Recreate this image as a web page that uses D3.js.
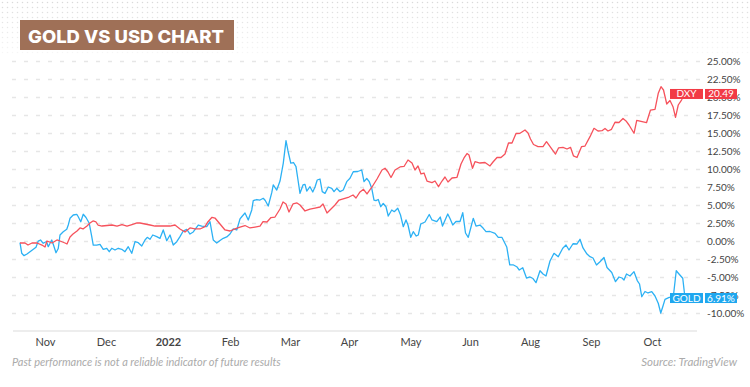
<!DOCTYPE html>
<html>
<head>
<meta charset="utf-8">
<script src="https://cdn.jsdelivr.net/npm/d3@7"></script>
<style>
  html, body { margin: 0; padding: 0; background: #fff; }
  svg { display: block; font-family: Lato, "Open Sans", sans-serif; }
</style>
</head>
<body>
<svg id="chart" width="750" height="387"></svg>
<script>
// Gold vs US dollar index, % change since the start (TradingView compare chart)
// x is a trading-day index, y is % change

const title = 'GOLD VS USD CHART';

const tickDays   = [10, 34.4, 59.2, 84, 108, 131.6, 156.2, 180, 204, 228.4, 252.8];
const tickLabels = ['Nov', 'Dec', '2022', 'Feb', 'Mar', 'Apr', 'May', 'Jun', 'Aug', 'Sep', 'Oct'];
const yTicks     = [-10, -7.5, -5, -2.5, 0, 2.5, 5, 7.5, 10, 12.5, 15, 17.5, 20, 22.5, 25];

const dxyDays = [0, 2, 3.2, 4.8, 6.8, 8.8, 10, 10.8, 12.8, 14.8, 16, 18, 18.8, 20, 21.2, 22.8, 24, 25.2, 26.8, 28,
  29.2, 30.4, 31.2, 32.8, 34.8, 36.8, 38.8, 40.8, 42.8, 44.8, 46.8, 48, 50, 52, 54, 56, 58, 60, 62, 64,
  66, 68, 70, 72, 74, 75.2, 76.8, 78, 80, 82, 84, 86, 88, 90, 92, 94, 96, 97.2, 98.8, 100.4,
  102, 104, 105.2, 106.4, 107.6, 109.2, 110.8, 112, 114, 116, 118, 120, 121.2, 122.8, 124.4, 126, 127.6, 129.6, 131.6, 133.2,
  134.4, 136, 137.4, 138.8, 140.8, 142.8, 144.8, 146, 147.2, 148.4, 150, 152, 153.6, 155.2, 156.8, 158, 159.2, 160.4, 161.6, 162.8,
  164.8, 166, 167.4, 168.8, 170, 171.2, 172.8, 174.8, 176.4, 177.6, 178.8, 179.6, 181, 182, 184, 186, 188, 189.2, 190.8, 192.4,
  194, 195.4, 196.8, 198.4, 200, 202, 203.2, 204.2, 205.4, 207.2, 209.2, 210.6, 212.4, 214.2, 215.4, 217.2, 218.8, 220.2, 221.4, 222.8,
  224.6, 226, 228, 229.6, 231.2, 232.8, 234, 235.2, 236.6, 238, 239.6, 241.2, 242.4, 243.6, 245.6, 246.7, 248.4, 250.6, 252.2, 254,
  255.3, 256.4, 257.4, 258.7, 260, 261.2, 262.2, 263.3, 264.6, 266];
const dxyPct = [-0.21, -0.21, -0.49, -0.21, -0.21, -0.49, -0.76, 0.07, -0.21, 0.21, 0.07, -0.21, -0.35, 0.63, 1.04, 1.46, 1.88, 1.74, 2.15, 2.57,
  2.85, 2.71, 2.29, 2.15, 2.22, 2.29, 2.15, 2.36, 2.15, 2.36, 2.57, 2.57, 2.43, 2.29, 2.15, 2.15, 2.15, 2.15, 2.29, 1.74,
  1.32, 1.88, 1.74, 1.74, 2.06, 2.75, 3.36, 3.26, 2.43, 1.60, 1.46, 1.74, 2.01, 2.22, 1.88, 2.01, 2.15, 2.75, 2.71, 3.33,
  3.40, 4.51, 5.49, 5.21, 4.10, 5.21, 5.35, 5.07, 4.24, 4.51, 4.65, 4.79, 5.21, 3.96, 4.51, 5.07, 5.76, 5.97, 6.18, 6.46,
  6.04, 6.88, 7.25, 6.60, 7.57, 8.68, 9.93, 10.17, 9.65, 8.89, 9.93, 10.35, 10.42, 11.32, 10.90, 9.93, 10.49, 9.38, 9.51, 8.40,
  8.17, 8.40, 7.61, 8.40, 8.96, 8.26, 8.82, 8.92, 10.76, 11.60, 12.22, 12.01, 10.17, 11.08, 10.90, 10.97, 10.49, 11.04, 11.67, 11.67,
  12.15, 13.68, 13.68, 15.00, 15.03, 15.49, 15.07, 14.24, 13.47, 13.19, 13.17, 13.86, 12.99, 12.15, 12.99, 13.08, 12.85, 13.08, 11.88, 11.67,
  13.17, 13.26, 14.56, 15.72, 15.35, 15.39, 15.69, 15.35, 15.58, 16.56, 16.53, 17.08, 16.74, 16.18, 15.03, 16.81, 16.67, 16.50, 18.26, 18.36,
  20.58, 21.50, 21.04, 19.10, 19.58, 18.72, 17.25, 18.96, 19.65, 20.49];

const goldDays = [0, 0.7, 1.6, 2.8, 4, 5.2, 6.4, 7.3, 8.2, 9.3, 10.6, 11.3, 12.7, 13.4, 14.4, 15.3, 16, 17.3, 18.7, 19.3,
  20, 21.3, 22.7, 23.3, 24.3, 25.3, 26.4, 27.7, 28.7, 29.3, 30.7, 32, 33.3, 34.7, 35.7, 36.7, 38, 39.3, 40.7, 42,
  43.3, 44.7, 46, 47.3, 48.7, 50, 50.9, 52, 53.1, 54.7, 56, 57.3, 58.7, 60, 61.3, 62.7, 64, 65.3, 66.7, 68,
  69.3, 71.3, 72.7, 74.7, 76, 76.7, 77.3, 78.7, 80, 81.3, 82.7, 84, 85.3, 86.7, 88, 88.7, 90, 91.3, 92.7, 93.3,
  94.7, 96, 97.3, 98.1, 99.3, 100.7, 101.3, 102.7, 104, 105.3, 106.4, 107.2, 108.3, 109.4, 110.4, 111.2, 112, 113.2, 114, 114.7,
  116, 117.1, 118, 118.9, 120, 120.9, 122, 123.3, 124.7, 125.6, 126.7, 128, 129.3, 130.7, 132, 133.3, 135.1, 136.7, 137.6, 138.7,
  139.7, 140.7, 141.6, 142.4, 143.3, 144.3, 145.3, 146.4, 147.3, 148.7, 149.7, 151.1, 152.2, 153.3, 154.4, 155.2, 156.3, 157.3, 158.5, 159.3,
  160.3, 162, 163.7, 164.8, 166.7, 168.1, 169, 171.1, 172, 173.1, 174.4, 176, 177.1, 178.2, 179.3, 180.4, 181.3, 182.4, 184, 185.3,
  186.4, 188, 190, 191.3, 192.8, 194.7, 195.9, 197.4, 198.7, 199.7, 201.1, 202.6, 204, 205.2, 206.4, 208, 209.2, 210.4, 212, 213.6,
  215.3, 217.1, 218.4, 219.6, 221.2, 222.8, 224, 225.2, 226.8, 228, 229.2, 230.6, 232, 233.6, 234.8, 236.7, 238.2, 239.6, 240.8, 241.6,
  242.6, 244, 245.6, 246.9, 247.8, 248.7, 250, 251.2, 252.7, 254, 255.3, 256.3, 257.2, 258, 259.7, 261.3, 262.5, 263.6, 265.1, 266];
const goldPct = [-0.17, -1.64, -1.97, -1.74, -1.42, -1.11, -0.81, 0.07, 0.21, -0.25, 0, -0.72, 0.21, -0.49, -1.56, -0.97, 0.90, 1.36, 1.69, 2.29,
  3.22, 3.68, 3.78, 3.44, 2.75, 3.78, 3.33, 2.53, 0.67, -0.49, -0.49, -0.39, -1.08, -0.94, -1.42, -0.94, -1.18, -0.94, -1.08, -1.42,
  -0.72, -1.64, -0.03, -0.17, -0.63, 0.21, 0.58, 0.31, 0.90, 0.67, 0.44, 1.60, 0.11, 0.90, -0.49, -0.03, 0.67, 1.46, 1.69, 1.04,
  1.32, 2.29, 2.15, 2.06, 2.75, 1.36, 0.21, -0.21, 0.14, 0.44, 0.63, 1.04, 1.74, 1.60, 3.13, 3.44, 3.96, 2.99, 4.38, 5.67,
  5.83, 5.76, 6.00, 5.69, 4.93, 6.78, 7.85, 7.15, 8.40, 10.86, 14.00, 12.57, 10.90, 10.97, 10.39, 8.54, 6.69, 7.85, 7.94, 7.01,
  7.61, 6.88, 7.57, 8.54, 8.68, 6.92, 6.69, 7.57, 7.39, 6.92, 7.39, 6.92, 7.15, 8.31, 8.78, 9.69, 9.72, 9.93, 8.31, 8.75,
  8.31, 7.39, 5.76, 5.67, 5.83, 4.83, 5.28, 4.83, 3.54, 4.38, 4.14, 4.61, 3.68, 2.06, 2.99, 2.29, 0.58, 1.36, 0.76, 0.90,
  2.43, 2.71, 3.75, 2.99, 2.75, 3.40, 2.15, 3.82, 3.19, 2.29, 2.78, 2.78, 4.00, 1.18, 0.58, 2.01, 3.22, 2.15, 2.29, 1.83,
  1.36, 1.39, 1.14, 0.58, 0.56, -0.76, -3.26, -3.26, -3.50, -3.96, -3.64, -5.07, -4.93, -5.14, -5.72, -4.06, -4.51, -4.79, -2.71, -1.64,
  -2.11, -0.94, -0.49, -1.18, -0.31, -0.35, 0.31, -0.90, -1.74, -2.11, -2.29, -3.26, -2.81, -2.22, -3.61, -4.31, -5.58, -4.93, -5.07, -5.35,
  -4.51, -4.79, -4.19, -5.42, -5.90, -7.67, -6.94, -7.15, -6.97, -7.57, -8.58, -9.93, -8.96, -8.03, -7.75, -7.75, -4.06, -4.51, -5.11, -7.85];

const seriesNames  = ['GOLD', 'DXY'];
const seriesLabels = ['6.91%', '20.49'];

const svg = d3.select('#chart');
const W = 750;

// dotted texture behind the title
const defs = svg.append('defs');
defs.append('pattern')
    .attr('id', 'dots').attr('width', 5).attr('height', 5)
    .attr('patternUnits', 'userSpaceOnUse')
  .append('circle')
    .attr('cx', 2.5).attr('cy', 2.5).attr('r', 0.75).attr('fill', '#d9d9d9');
const fade = defs.append('linearGradient').attr('id', 'fade').attr('x1', 0).attr('x2', 0).attr('y1', 0).attr('y2', 1);
fade.append('stop').attr('offset', '0%').attr('stop-color', '#fff').attr('stop-opacity', 1);
fade.append('stop').attr('offset', '100%').attr('stop-color', '#fff').attr('stop-opacity', 0.2);
defs.append('mask').attr('id', 'fadeMask')
  .append('rect').attr('width', W).attr('height', 56).attr('fill', 'url(#fade)');
svg.append('rect')
    .attr('width', W).attr('height', 56)
    .attr('fill', 'url(#dots)')
    .attr('mask', 'url(#fadeMask)');

// title badge
svg.append('rect')
    .attr('x', 20).attr('y', 20).attr('width', 214).attr('height', 30)
    .attr('fill', '#9f7057');
svg.append('text')
    .attr('x', 28).attr('y', 42.5)
    .attr('textLength', 196).attr('lengthAdjust', 'spacingAndGlyphs')
    .attr('fill', '#fff')
    .style('font-family', 'Inter, Lato, sans-serif')
    .style('font-weight', 800).style('font-size', '18px')
    .text(title);

// scales
const x = d3.scaleLinear().domain([0, 266]).range([20, 685]);
const y = d3.scaleLinear().domain([-10, 25]).range([313.5, 61.5]);
const gridLeft = 12, gridRight = 700, axisY = 331;

// dashed gridlines
svg.append('g').selectAll('line').data(yTicks).join('line')
    .attr('x1', gridLeft).attr('x2', gridRight)
    .attr('y1', d => y(d)).attr('y2', d => y(d))
    .attr('stroke', '#e6e6e6').attr('stroke-width', 1.5)
    .attr('stroke-dasharray', '4,8');

// right axis labels
const yAxis = svg.append('g')
    .attr('transform', `translate(703,0)`)
    .call(d3.axisRight(y).tickValues(yTicks).tickSize(0).tickPadding(4)
        .tickFormat(d => d.toFixed(2) + '%'));
yAxis.select('.domain').remove();
yAxis.selectAll('text')
    .attr('fill', '#444').style('font-size', '10px')
    .style('font-family', 'Lato, sans-serif');

// bottom axis
svg.append('line')
    .attr('x1', gridLeft + 1).attr('x2', 697)
    .attr('y1', axisY).attr('y2', axisY)
    .attr('stroke', '#ededed').attr('stroke-width', 2);
const xAxis = svg.append('g')
    .attr('transform', `translate(0,${axisY})`)
    .call(d3.axisBottom(x).tickValues(tickDays).tickSize(0).tickPadding(7)
        .tickFormat((d, i) => tickLabels[i]));
xAxis.select('.domain').remove();
xAxis.selectAll('text')
    .attr('fill', '#444').style('font-size', '11px')
    .style('font-family', 'Lato, sans-serif')
    .style('font-weight', (d, i) => tickLabels[i] === '2022' ? 700 : 400);

// lines
const series = [
    { name: seriesNames[0], days: goldDays, pct: goldPct, line: '#2cb1f4', box: '#1ea7ef', label: seriesLabels[0] },
    { name: seriesNames[1], days: dxyDays, pct: dxyPct, line: '#f6525c', box: '#f23a45', label: seriesLabels[1] }
];
const lineGen = d3.line().x(d => x(d[0])).y(d => y(d[1]));

svg.append('g').selectAll('path').data(series).join('path')
    .attr('d', s => lineGen(d3.zip(s.days, s.pct)))
    .attr('fill', 'none')
    .attr('stroke', s => s.line)
    .attr('stroke-width', 1.3)
    .attr('stroke-linejoin', 'round');

// end-of-line tags (they sit over the axis labels, as in TradingView)
const tags = svg.append('g').selectAll('g').data(series).join('g')
    .attr('transform', s => `translate(0,${y(s.pct[s.pct.length - 1])})`);
tags.append('rect')
    .attr('x', 670).attr('y', -5).attr('width', 33).attr('height', 10)
    .attr('fill', s => s.box);
tags.append('rect')
    .attr('x', 705).attr('y', -5).attr('width', 32).attr('height', 10)
    .attr('fill', s => s.box);
tags.append('text')
    .attr('x', 686.5).attr('y', 3.5).attr('text-anchor', 'middle')
    .attr('fill', '#fff').style('font-size', '10px')
    .text(s => s.name);
tags.append('text')
    .attr('x', 721).attr('y', 3.5).attr('text-anchor', 'middle')
    .attr('fill', '#fff').style('font-size', '10px')
    .text(s => s.label);

// footer
svg.append('text')
    .attr('x', 12).attr('y', 366)
    .attr('fill', '#ababab').style('font-size', '11px').style('font-style', 'italic')
    .text('Past performance is not a reliable indicator of future results');
svg.append('text')
    .attr('x', 737).attr('y', 366).attr('text-anchor', 'end')
    .attr('fill', '#ababab').style('font-size', '11.5px').style('font-style', 'italic')
    .text('Source: TradingView');
</script>
</body>
</html>
